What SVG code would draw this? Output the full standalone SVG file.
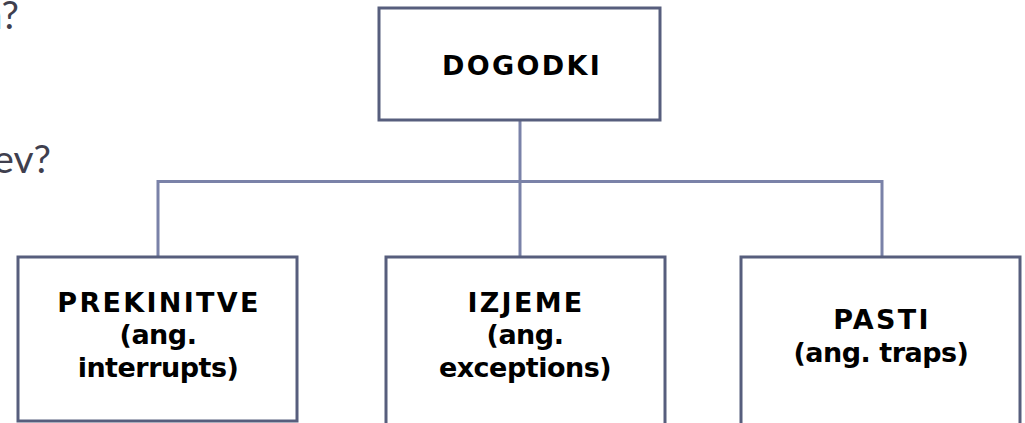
<svg xmlns="http://www.w3.org/2000/svg" width="1025" height="423" viewBox="0 0 1025 423">
<style>
.box{fill:#ffffff;stroke:#575e7d;stroke-width:3}
.con{fill:none;stroke:#7a82a8;stroke-width:3}
.lbl{font-family:"DejaVu Sans","Liberation Sans",sans-serif;font-weight:700;font-size:27px;fill:#000;text-anchor:middle}
.up{letter-spacing:2.3px}
.lo{letter-spacing:-0.5px}
.bg{font-family:Lato,"Open Sans","Liberation Sans",sans-serif;font-size:39px;fill:#3f3f4e;text-anchor:end}
</style>
<rect width="1025" height="423" fill="#ffffff"/>
<text class="bg" x="19" y="29">n?</text>
<text class="bg" x="51" y="173">ev?</text>
<g id="connectors">
<path class="con" d="M520 120 V182"/>
<path class="con" d="M158 257 V181.5 H882 V257"/>
<path class="con" d="M520 182 V257"/>
</g>
<g id="dogodki">
<rect class="box" x="379" y="8" width="281" height="112"/>
<text class="lbl up" x="522" y="75">DOGODKI</text>
</g>
<g id="prekinitve">
<rect class="box" x="18" y="257" width="279" height="164"/>
<text class="lbl up" x="159" y="312">PREKINITVE</text>
<text class="lbl lo" x="158" y="344">(ang.</text>
<text class="lbl lo" x="158" y="377">interrupts)</text>
</g>
<g id="izjeme">
<rect class="box" x="386" y="257" width="279" height="180"/>
<text class="lbl up" x="526" y="312">IZJEME</text>
<text class="lbl lo" x="525" y="344">(ang.</text>
<text class="lbl lo" x="525" y="377">exceptions)</text>
</g>
<g id="pasti">
<rect class="box" x="741" y="257" width="279" height="180"/>
<text class="lbl up" x="882" y="329">PASTI</text>
<text class="lbl lo" x="881" y="362">(ang. traps)</text>
</g>
</svg>
